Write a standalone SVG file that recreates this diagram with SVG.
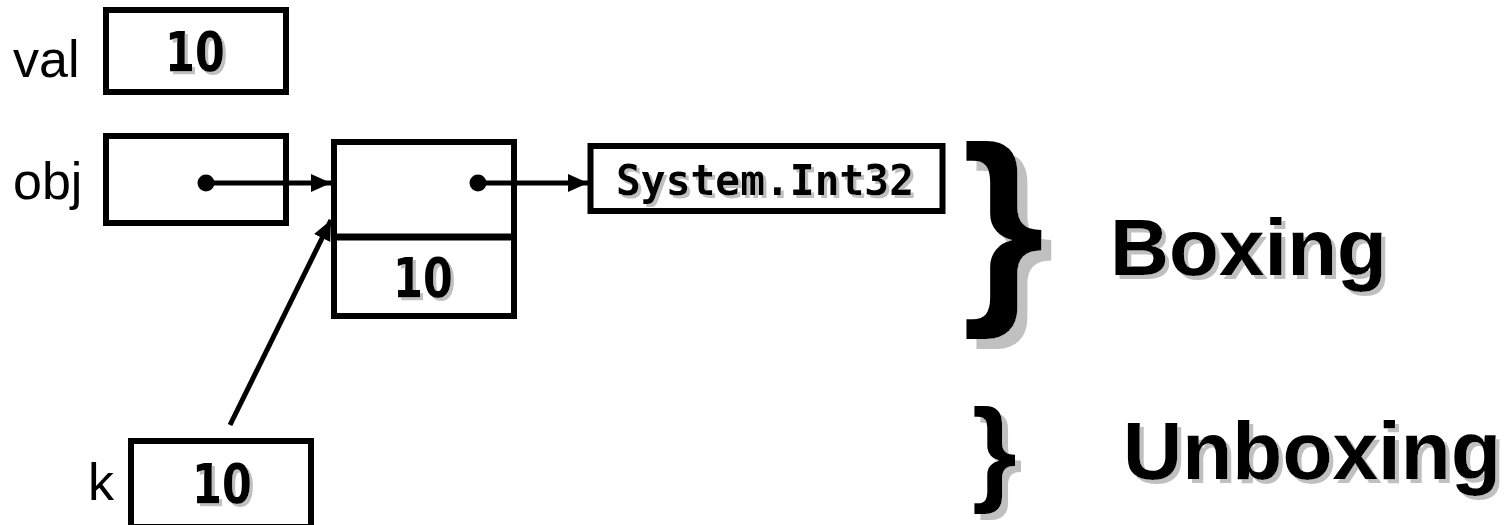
<svg xmlns="http://www.w3.org/2000/svg" width="1512" height="525" viewBox="0 0 1512 525">
<style>
.box{fill:#fff;stroke:#000;stroke-width:6}
.lbl{font-family:"Liberation Sans",Arial,sans-serif;font-size:52px;fill:#000}
.num{font-family:"DejaVu Sans",sans-serif;font-weight:bold;font-size:56px;fill:#000;text-anchor:middle}
.mono{font-family:"DejaVu Sans Mono","Liberation Mono",monospace;font-weight:bold;font-size:43px;fill:#000;text-anchor:middle}
.big{font-family:"Liberation Sans",Arial,sans-serif;font-weight:bold;fill:#000}
.ln{stroke:#000;stroke-width:5;fill:none}
</style>
<defs>
<filter id="sh3" x="-10%" y="-10%" width="130%" height="130%"><feOffset in="SourceAlpha" dx="3" dy="3" result="o"/><feFlood flood-color="#c0c0c0"/><feComposite in2="o" operator="in" result="s"/><feMerge><feMergeNode in="s"/><feMergeNode in="SourceGraphic"/></feMerge></filter>
<filter id="sh4" x="-10%" y="-10%" width="130%" height="130%"><feOffset in="SourceAlpha" dx="4" dy="4" result="o"/><feFlood flood-color="#c0c0c0"/><feComposite in2="o" operator="in" result="s"/><feMerge><feMergeNode in="s"/><feMergeNode in="SourceGraphic"/></feMerge></filter>
<filter id="sh6" x="-20%" y="-10%" width="150%" height="130%"><feOffset in="SourceAlpha" dx="6" dy="6" result="o"/><feFlood flood-color="#c0c0c0"/><feComposite in2="o" operator="in" result="s"/><feMerge><feMergeNode in="s"/><feMergeNode in="SourceGraphic"/></feMerge></filter>
<filter id="sh10" x="-20%" y="-10%" width="150%" height="130%"><feOffset in="SourceAlpha" dx="10" dy="10" result="o"/><feFlood flood-color="#c0c0c0"/><feComposite in2="o" operator="in" result="s"/><feMerge><feMergeNode in="s"/><feMergeNode in="SourceGraphic"/></feMerge></filter>
<marker id="ah" markerUnits="userSpaceOnUse" markerWidth="22" markerHeight="22" viewBox="0 0 22 22" refX="20" refY="11" orient="auto"><path d="M0,2 L20,11 L0,20 Z" fill="#000"/></marker>
</defs>

<g id="val">
<text class="lbl" x="13" y="77">val</text>
<rect class="box" x="106" y="10" width="180" height="82"/>
<text class="num" x="195" y="71" textLength="60" lengthAdjust="spacingAndGlyphs" filter="url(#sh3)">10</text>
</g>

<g id="obj">
<text class="lbl" x="13" y="199">obj</text>
<rect class="box" x="106" y="136" width="180" height="87"/>
</g>

<g id="heap">
<rect class="box" x="334" y="142" width="180" height="174"/>
<line x1="334" y1="237" x2="514" y2="237" stroke="#000" stroke-width="7"/>
<text class="num" x="423" y="297" textLength="60" lengthAdjust="spacingAndGlyphs" filter="url(#sh3)">10</text>
</g>

<g id="type">
<rect class="box" x="590.5" y="146" width="352" height="65"/>
<text class="mono" x="765" y="195" textLength="298" lengthAdjust="spacingAndGlyphs" filter="url(#sh3)">System.Int32</text>
</g>

<g id="k">
<text class="lbl" x="88" y="500">k</text>
<rect class="box" x="131" y="441" width="180" height="86"/>
<text class="num" x="222" y="503" textLength="60" lengthAdjust="spacingAndGlyphs" filter="url(#sh3)">10</text>
</g>

<g id="connectors">
<circle cx="206" cy="183" r="8.5" fill="#000"/>
<line class="ln" x1="206" y1="183" x2="331" y2="183" marker-end="url(#ah)"/>
<circle cx="478" cy="183" r="8.5" fill="#000"/>
<line class="ln" x1="478" y1="183" x2="588" y2="183" marker-end="url(#ah)"/>
<line class="ln" x1="230" y1="425" x2="331" y2="220" marker-end="url(#ah)"/>
</g>

<g id="boxing">
<text class="big" x="962" y="295" font-size="212" filter="url(#sh10)">}</text>
<text class="big" x="1110" y="275" font-size="80" textLength="277" lengthAdjust="spacingAndGlyphs" filter="url(#sh4)">Boxing</text>
</g>

<g id="unboxing">
<text class="big" x="972" y="490" font-size="115" filter="url(#sh6)">}</text>
<text class="big" x="1123" y="479" font-size="82" filter="url(#sh4)">Unboxing</text>
</g>
</svg>
